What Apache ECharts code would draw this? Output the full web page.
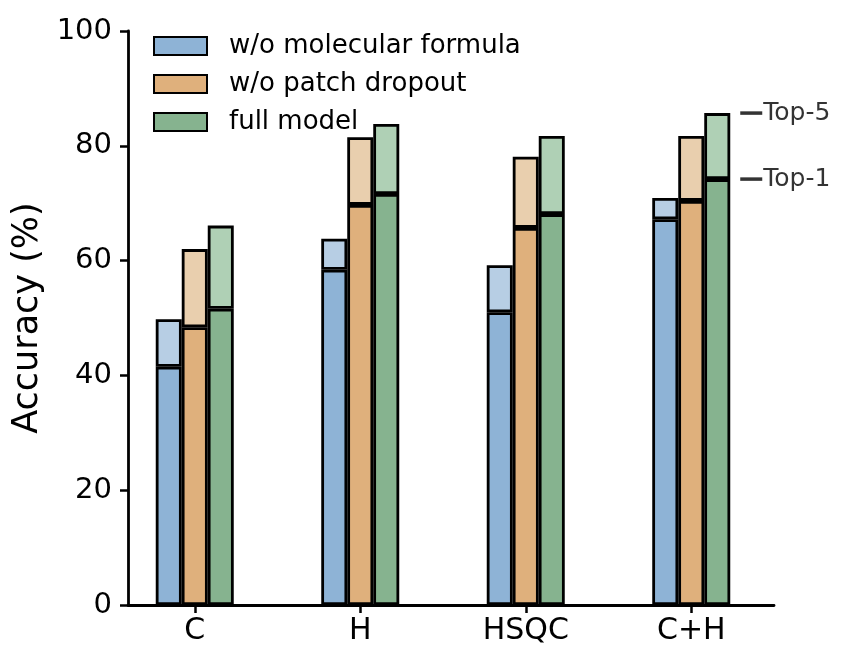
<!DOCTYPE html>
<html>
<head>
<meta charset="utf-8">
<script src="https://cdn.jsdelivr.net/npm/echarts@6/dist/echarts.min.js"></script>
<style>
  html, body { margin: 0; padding: 0; background: #fff; }
  #chart { width: 850px; height: 667px; }
</style>
</head>
<body>
<div id="chart"></div>
<script>
const categories = ['C', 'H', 'HSQC', 'C+H'];
const models = ['w/o molecular formula', 'w/o patch dropout', 'full model'];

// top-1 and top-5 accuracy per model
const top1NoFormula = [41.5, 58.4, 51.0, 67.2];
const top5NoFormula = [49.8, 63.8, 59.2, 70.9];
const top1NoDropout = [48.4, 69.7, 65.7, 70.4];
const top5NoDropout = [62.0, 81.5, 78.1, 81.7];
const top1Full = [51.6, 71.6, 68.1, 74.2];
const top5Full = [66.1, 83.8, 81.7, 85.7];

const yTicks = [0, 20, 40, 60, 80, 100];

const darkColors = ['#8EB3D6', '#DFB07C', '#86B38F'];
const lightColors = ['#B7CEE4', '#E9CFAE', '#AFD0B5'];

const font = 'DejaVu Sans';
const chart = echarts.init(document.getElementById('chart'));

const pairs = [
  [top1NoFormula, top5NoFormula],
  [top1NoDropout, top5NoDropout],
  [top1Full, top5Full]
];

let series = [];
pairs.forEach((p, i) => {
  series.push({
    name: models[i],
    type: 'bar',
    stack: 's' + i,
    barWidth: 26,
    barGap: '0%',
    xAxisIndex: 0,
    yAxisIndex: 0,
    itemStyle: { color: darkColors[i], borderColor: '#000', borderWidth: 2.8 },
    data: p[0]
  });
  series.push({
    name: models[i],
    type: 'bar',
    stack: 's' + i,
    barWidth: 26,
    barGap: '0%',
    xAxisIndex: 0,
    yAxisIndex: 0,
    itemStyle: { color: lightColors[i], borderColor: '#000', borderWidth: 2.8 },
    data: p[1].map((v, k) => +(v - p[0][k]).toFixed(2))
  });
});

// Top-5 / Top-1 markers next to the last full-model bar
const last = categories.length - 1;
series.push({
  type: 'scatter',
  xAxisIndex: 0,
  yAxisIndex: 0,
  symbol: 'rect',
  symbolSize: [22, 3.5],
  symbolOffset: [60, 0],
  itemStyle: { color: '#000' },
  silent: true,
  z: 5,
  label: {
    show: true,
    position: 'right',
    distance: 1,
    color: '#000',
    fontFamily: font,
    fontSize: 25,
    formatter: p => p.data.label
  },
  data: [
    { value: [categories[last], top5Full[last]], label: 'Top-5' },
    { value: [categories[last], top1Full[last]], label: 'Top-1' }
  ]
});

const option = {
  animation: false,
  backgroundColor: '#fff',
  legend: {
    orient: 'vertical',
    left: 148,
    top: 28,
    itemWidth: 53,
    itemHeight: 18,
    itemGap: 12,
    icon: 'rect',
    itemStyle: { borderColor: '#000', borderWidth: 2 },
    textStyle: { fontFamily: font, fontSize: 26, color: '#000', padding: [0, 0, 0, 17] },
    data: models
  },
  grid: [
    { left: 112, right: 76, top: 31, bottom: 62 },
    { left: 128, right: 76, top: 31, bottom: 62 }
  ],
  xAxis: [
    {
      type: 'category',
      gridIndex: 0,
      data: categories,
      axisLine: { show: false },
      axisTick: { show: true, alignWithLabel: true, length: 8, lineStyle: { color: '#000', width: 2.5 } },
      axisLabel: { color: '#000', fontFamily: font, fontSize: 30, margin: 11 }
    },
    {
      type: 'value',
      gridIndex: 1,
      min: 0,
      max: 1,
      axisLine: { show: true, lineStyle: { color: '#000', width: 2.8 } },
      axisTick: { show: false },
      axisLabel: { show: false },
      splitLine: { show: false }
    }
  ],
  yAxis: [
    {
      type: 'value',
      gridIndex: 0,
      min: 0,
      max: 100,
      show: false
    },
    {
      type: 'value',
      gridIndex: 1,
      min: yTicks[0],
      max: yTicks[yTicks.length - 1],
      interval: 20,
      name: 'Accuracy (%)',
      nameLocation: 'middle',
      nameGap: 75,
      nameTextStyle: { fontFamily: font, fontSize: 35, color: '#000' },
      axisLine: { show: true, lineStyle: { color: '#000', width: 2.8 } },
      axisTick: { show: true, length: 8, lineStyle: { color: '#000', width: 2.5 } },
      axisLabel: { color: '#000', fontFamily: font, fontSize: 29, margin: 16 },
      splitLine: { show: false }
    }
  ],
  series: series
};

chart.setOption(option);
</script>
</body>
</html>
